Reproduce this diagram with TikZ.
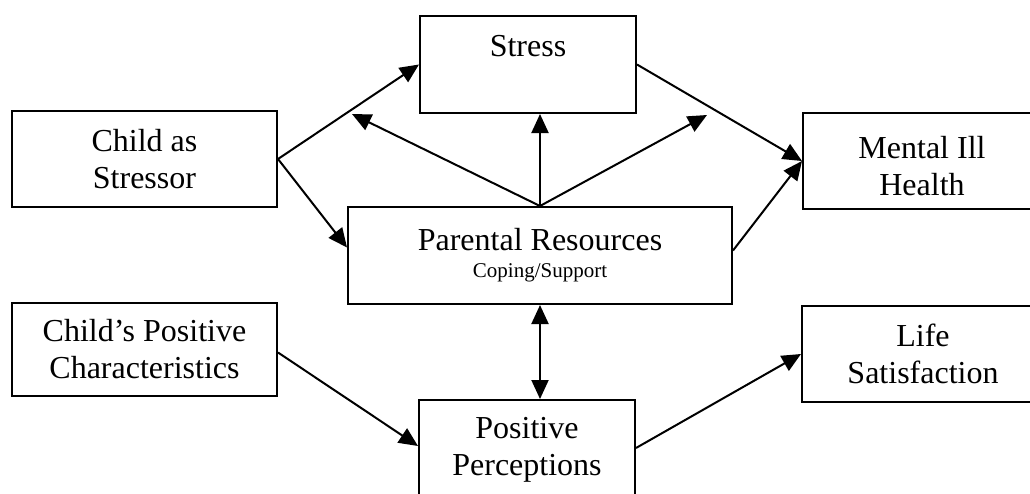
\documentclass[tikz,border=0pt]{standalone}
\usepackage{fontspec}
\setmainfont{Liberation Serif}
\usetikzlibrary{arrows.meta,calc}
\begin{document}
\begin{tikzpicture}[x=1pt,y=-1pt,
  box/.style={draw, line width=2pt, rectangle, inner sep=0pt, align=center,
    font=\fontsize{32}{37}\selectfont},
  label text/.style={inner sep=0pt, align=center, font=\fontsize{32}{37}\selectfont},
  tip/.style={Triangle[length=19pt,width=17pt]},
  link/.style={line width=2pt, -{Triangle[length=19pt,width=17pt]}},
  both/.style={line width=2pt, {Triangle[length=19pt,width=17pt]}-{Triangle[length=19pt,width=17pt]}},
  ]
\useasboundingbox (0,0) rectangle (1030,493);
\begin{scope}
  \clip (-2,-2) rectangle (1030,493);
  % boxes of the model
  \node[box, minimum width=265pt, minimum height=96pt] (cas) at (144.5,159) {Child as\\Stressor};
  \node[box, minimum width=216pt, minimum height=97pt] (stress) at (528,64.5) {};
  \node[label text] (stresstext) at (528,46.5) {Stress};
  \node[box, minimum width=238pt, minimum height=96pt] (mental) at (922,161) {};
  \node[label text] (mentaltext) at (922,166) {Mental Ill\\Health};
  \node[box, minimum width=384pt, minimum height=97pt] (parental) at (540,255.5)
    {Parental Resources\\[-10pt]{\fontsize{21}{24}\selectfont Coping/Support}};
  \node[box, minimum width=265pt, minimum height=93pt] (cpc) at (144.5,349.5) {Child's Positive\\Characteristics};
  \node[box, minimum width=242pt, minimum height=96pt] (life) at (923,354) {Life\\Satisfaction};
  \node[box, minimum width=216pt, minimum height=100pt] (pp) at (527,450) {Positive\\Perceptions};
\end{scope}
% free ends of the moderating paths
\coordinate (m1) at (352,114);
\coordinate (m2) at (707,115);
% paths
\draw[link] (cas.east) -- (stress.west);
\draw[link] (cas.east) -- ($(parental.west)+(0,-8)$);
\draw[link] (parental.north) -- (m1);
\draw[link] (parental.north) -- (parental.north |- stress.south);
\draw[link] (parental.north) -- (m2);
\draw[link] (stress.east) -- (mental.west);
\draw[link] ($(parental.east)+(0,-5)$) -- (mental.west);
\draw[both] (parental.south) -- (parental.south |- pp.north);
\draw[link] ($(cpc.east)+(0,3)$) -- ($(pp.west)+(0,-4)$);
\draw[link] ($(pp.east)+(0,-2)$) -- (life.west);
\end{tikzpicture}
\end{document}
